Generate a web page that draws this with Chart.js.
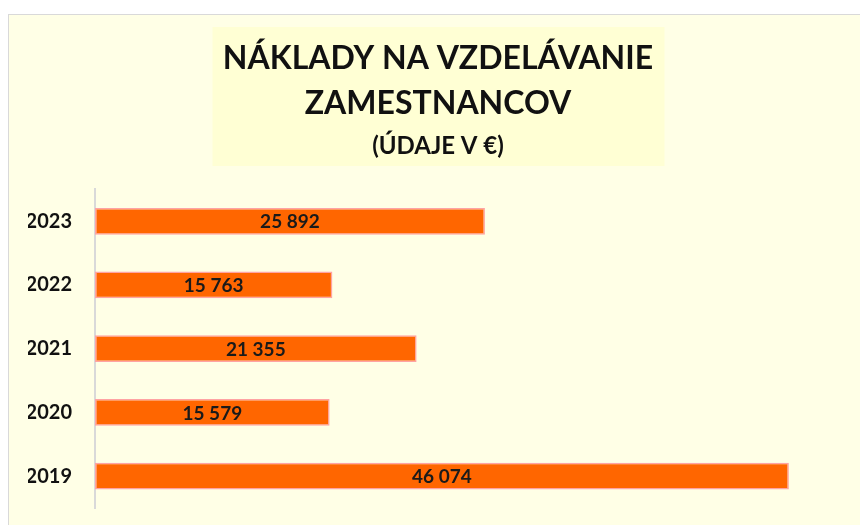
<!DOCTYPE html>
<html>
<head>
<meta charset="utf-8">
<script src="https://cdn.jsdelivr.net/npm/chart.js@4"></script>
<style>
  body { margin: 0; background: #fff; overflow: hidden; }
  #frame {
    position: absolute; left: 8px; top: 14px;
    width: 860px; height: 520px;
    background: #FFFFE6;
    border-left: 1px solid #D9D9D9;
    border-top: 1px solid #D9D9D9;
  }
  #costChart { display: block; }
</style>
</head>
<body>
<div id="frame"><canvas id="costChart" width="851" height="511"></canvas></div>
<script>
  // ----- data
  const years = ['2023', '2022', '2021', '2020', '2019'];
  const costs = [25892, 15763, 21355, 15579, 46074];
  const titleLines = ['NÁKLADY NA VZDELÁVANIE', 'ZAMESTNANCOV'];
  const subtitleText = '(ÚDAJE V €)';

  function fmt(v) {
    return String(v).replace(/\B(?=(\d{3})+(?!\d))/g, ' ');
  }

  // yellow box behind the title
  const titleBox = {
    id: 'titleBox',
    beforeDraw(chart) {
      const c = chart.ctx;
      const w = 452;
      const x = chart.width / 2 - w / 2 + 4;
      c.save();
      c.fillStyle = '#FFFFD4';
      c.fillRect(x, 12, w, 139);
      c.restore();
    }
  };

  // value labels in the middle of each bar
  const barLabels = {
    id: 'barLabels',
    afterDatasetsDraw(chart) {
      const c = chart.ctx;
      const meta = chart.getDatasetMeta(0);
      c.save();
      c.font = 'bold 19px Lato';
      c.fillStyle = '#1a1a1a';
      c.textAlign = 'center';
      c.textBaseline = 'middle';
      meta.data.forEach(function(bar, i) {
        c.fillText(fmt(chart.data.datasets[0].data[i]), (bar.x + bar.base) / 2, bar.y + 1);
      });
      c.restore();
    }
  };

  var ctx = document.getElementById('costChart');

  new Chart(ctx, {
    type: 'bar',
    data: {
      labels: years,
      datasets: [{
        data: costs,
        backgroundColor: '#FF6600',
        borderColor: '#FFA3A3',
        borderWidth: 1.5,
        borderSkipped: false,
        barPercentage: 0.42,
        categoryPercentage: 1
      }]
    },
    options: {
      indexAxis: 'y',
      responsive: false,
      animation: false,
      layout: { padding: { left: 19, right: 12, top: 0, bottom: 18 } },
      plugins: {
        legend: { display: false },
        tooltip: { enabled: false },
        title: {
          display: true,
          text: titleLines,
          color: '#111',
          font: { family: 'Lato', size: 32, weight: 'bold', lineHeight: 1.4 },
          padding: { top: 21, bottom: 0 }
        },
        subtitle: {
          display: true,
          text: subtitleText,
          color: '#111',
          font: { family: 'Lato', size: 24, weight: 'bold', lineHeight: 1.2 },
          padding: { top: 6, bottom: 29 }
        }
      },
      scales: {
        x: {
          display: false,
          min: 0,
          max: 50000
        },
        y: {
          grid: { display: false, drawTicks: false },
          border: { display: true, color: '#D9D9D9', width: 2 },
          ticks: {
            color: '#111',
            padding: 23,
            font: { family: 'Lato', size: 20, weight: 'bold' }
          },
          afterFit(scale) {
            scale.width = 67;
            scale.paddingTop = 0;
            scale.paddingBottom = 0;
          }
        }
      }
    },
    plugins: [titleBox, barLabels]
  });
</script>
</body>
</html>
